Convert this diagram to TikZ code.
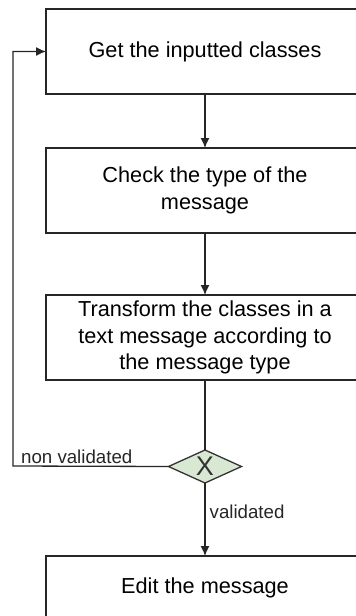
\documentclass[tikz,border=0pt]{standalone}
\usepackage{fontspec}
\setmainfont{Liberation Sans}
\usetikzlibrary{positioning,shapes.geometric,arrows.meta}
\definecolor{gatefill}{HTML}{D9E8D2}
\definecolor{edgegray}{HTML}{333333}
\tikzstyle{stepbox} = [rectangle, draw=black!85, line width=1.3pt, fill=white, %
   minimum width=318pt, minimum height=85pt, inner sep=0pt, outer sep=0pt, %
   text centered, align=center, font=\fontsize{21.7}{26.4}\selectfont]
\tikzstyle{gatebox} = [diamond, draw=edgegray, fill=gatefill, line width=1.3pt, %
   minimum width=73pt, minimum height=33pt, inner sep=0pt, outer sep=0pt]
\tikzstyle{lbl} = [font=\fontsize{18.7}{22}\selectfont, text=black!85]
\tikzstyle{line} = [draw=black!85, line width=1.3pt, -{Latex[length=10pt,width=9pt]}]

\begin{document}
\begin{tikzpicture}[x=1pt, y=1pt]
         % Frame
         \clip (0,0) rectangle (356,-616);

      % MAIN SPINE %%%%%%%%%%%%%%%%%%%%%%%%%%%%%%%%%%%%%%%%%%%%%%%%%%%
         \node[stepbox] (inputs) at (205,-51.5) {Get the inputted classes};

         \node[stepbox, below=54pt of inputs] (msgtype) {%
            Check the type of the\\message};

         \node[stepbox, below=62pt of msgtype] (transform) {%
            Transform the classes in a\\text message according to\\the message type};

         \node[gatebox, below=70pt of transform, %
            label={[font=\fontsize{27}{27}\selectfont, text=edgegray]center:X}] (gate) {};

         \node[stepbox, minimum height=64pt, below=73pt of gate] (edit) {Edit the message};

         \coordinate (loopx) at (13,-466);

         % Draw edges
         % Main spine
         \path [line] (inputs) -- (msgtype);
         \path [line] (msgtype) -- (transform);
         \path [draw=black!85, line width=1.3pt, -] (transform) -- (gate);
         \path [line] (gate) -- node[lbl, right, inner sep=4pt, pos=0.4]{validated} (edit);
         % Loop back
         \path [line] (gate.west) -- node[lbl, above, inner sep=2pt, pos=0.59]{non validated} (loopx) |- (inputs.west);

      \end{tikzpicture}
\end{document}
